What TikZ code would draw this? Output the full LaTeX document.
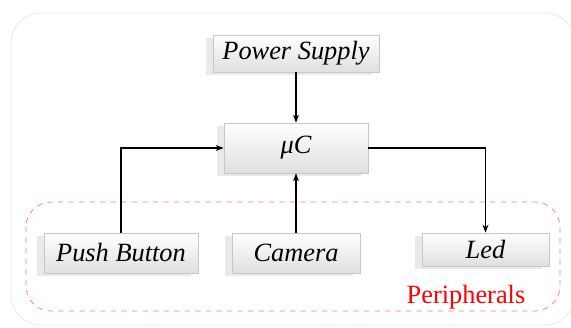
\documentclass[tikz,border=0pt]{standalone}
\usepackage{fontspec}
\newfontfamily\tnr{Liberation Serif}
\usetikzlibrary{arrows.meta,shadows}

\begin{document}
\begin{tikzpicture}[>={Stealth[length=1.6mm,width=1.2mm]}, font=\tnr\fontsize{15}{18}\selectfont,
      b/.style={draw=gray!45, line width=0.4pt, top color=white, bottom color=gray!25, inner sep=0pt,
        font=\tnr\fontsize{15}{18}\selectfont\itshape,
        drop shadow={shadow xshift=-0.14cm, shadow yshift=-0.06cm, fill=gray!50, opacity=0.35}},
      c/.style={line width=0.65pt}]
      \useasboundingbox (0,0) rectangle (11.42,-6.54);
      \draw[gray!20, rounded corners=0.6cm] (0.22,-0.26) rectangle (11.5,-6.5);
      \draw[red!55, dashed, rounded corners=0.5cm] (0.52,-4.04) rectangle (11.2,-6.22);
      \node[b, minimum width=3.32cm, minimum height=0.74cm] (power) at (5.92,-1.07) {Power Supply};
      \node[b, minimum width=2.88cm, minimum height=1.0cm]  (mcu)   at (5.92,-2.96) {μC};
      \node[b, minimum width=3.08cm, minimum height=0.8cm]  (push)  at (2.42,-5.06) {Push Button};
      \node[b, minimum width=2.56cm, minimum height=0.8cm]  (cam)   at (5.92,-5.06) {Camera};
      \node[b, minimum width=2.54cm, minimum height=0.66cm] (led)   at (9.71,-4.99) {Led};
      \node[text=red] (periph) at (9.32,-5.94) {Peripherals};
      \draw[c, ->] (power) -- (mcu);
      \draw[c, ->] (push.north) |- (mcu.west);
      \draw[c, ->] (cam) -- (mcu);
      \draw[c, ->] (mcu.east) -| (led.north);
\end{tikzpicture}
\end{document}
